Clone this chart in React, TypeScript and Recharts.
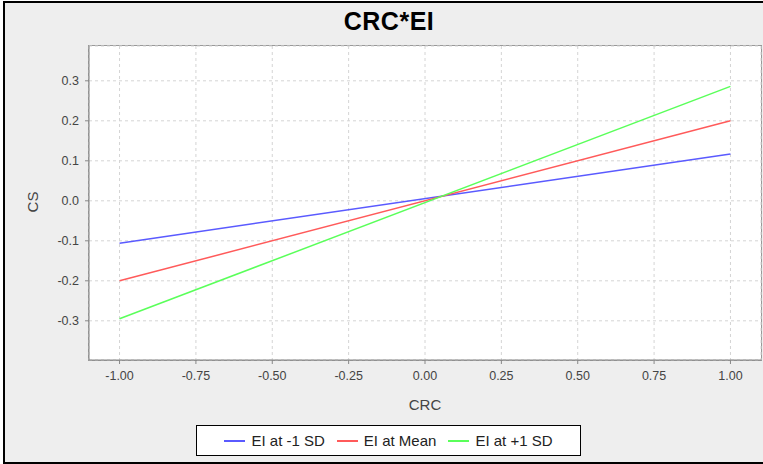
import { LineChart, Line, XAxis, YAxis, CartesianGrid } from "recharts";

const xValues = [-1, 1];
const lowSd = [-0.106, 0.117];
const atMean = [-0.2, 0.2];
const highSd = [-0.295, 0.286];
const xTicks = [-1, -0.75, -0.5, -0.25, 0, 0.25, 0.5, 0.75, 1];
const yTicks = [-0.3, -0.2, -0.1, 0, 0.1, 0.2, 0.3];

const series = [
  { key: "low", name: "EI at -1 SD", color: "#5a5aff" },
  { key: "mean", name: "EI at Mean", color: "#ff5a5a" },
  { key: "high", name: "EI at +1 SD", color: "#5aff5a" },
];

const data = xValues.map((x, i) => ({
  x,
  low: lowSd[i],
  mean: atMean[i],
  high: highSd[i],
}));

const font = "'Liberation Sans', Arial, sans-serif";

export default function App() {
  return (
    <div style={{ position: "absolute", left: 0, top: 0, width: 763, height: 464, background: "#fff", overflow: "hidden", fontFamily: font }}>
      {/* outer frame, right side cropped off like the original */}
      <div style={{ position: "absolute", left: 3, top: 1, width: 780, height: 459, border: "2px solid #000", background: "#eeeeee" }} />

      <div style={{ position: "absolute", left: 289, top: 7, width: 200, textAlign: "center", fontSize: 25, fontWeight: "bold", color: "#000", letterSpacing: 0.5 }}>
        CRC*EI
      </div>

      {/* plot background + outline */}
      <div style={{ position: "absolute", left: 88, top: 45, width: 672, height: 314, background: "#fff", border: "1px solid #999" }} />

      <div style={{ position: "absolute", left: 32, top: 202, transform: "translate(-50%, -50%) rotate(-90deg)", fontSize: 15, color: "#444" }}>
        CS
      </div>

      <div style={{ position: "absolute", left: 0, top: 0 }}>
        <LineChart width={763} height={464} data={data} margin={{ top: 46, right: 2, bottom: 0, left: 0 }}>
          <CartesianGrid stroke="#d4d4d4" strokeDasharray="3 3" />
          <XAxis
            type="number"
            dataKey="x"
            domain={[-1.1, 1.1]}
            ticks={xTicks}
            tickFormatter={(v: number) => v.toFixed(2)}
            height={104}
            axisLine={{ stroke: "#888" }}
            tickLine={{ stroke: "#888" }}
            tickSize={4}
            tickMargin={7}
            tick={{ fill: "#444", fontSize: 12.5, fontFamily: font }}
            label={{ value: "CRC", position: "insideTop", offset: 39, fill: "#444", fontSize: 15, fontFamily: font }}
          />
          <YAxis
            type="number"
            domain={[-0.398, 0.387]}
            ticks={yTicks}
            tickFormatter={(v: number) => v.toFixed(1)}
            width={89}
            axisLine={{ stroke: "#888" }}
            tickLine={{ stroke: "#888" }}
            tickSize={4}
            tickMargin={6}
            tick={{ fill: "#444", fontSize: 12.5, fontFamily: font }}
            allowDataOverflow
          />
          {series.map((s) => (
            <Line
              key={s.key}
              type="linear"
              dataKey={s.key}
              name={s.name}
              stroke={s.color}
              strokeWidth={1.5}
              dot={false}
              isAnimationActive={false}
            />
          ))}
        </LineChart>
      </div>

      <div
        style={{
          position: "absolute",
          left: 196,
          top: 425,
          width: 383,
          height: 29,
          border: "1px solid #000",
          background: "#fff",
          display: "flex",
          alignItems: "center",
          justifyContent: "center",
          gap: 12,
          fontSize: 15,
          color: "#222",
        }}
      >
        {series.map((s) => (
          <div key={s.key} style={{ display: "flex", alignItems: "center", gap: 6 }}>
            <span style={{ display: "inline-block", width: 21, height: 0, borderTop: `2px solid ${s.color}` }} />
            <span>{s.name}</span>
          </div>
        ))}
      </div>
    </div>
  );
}
